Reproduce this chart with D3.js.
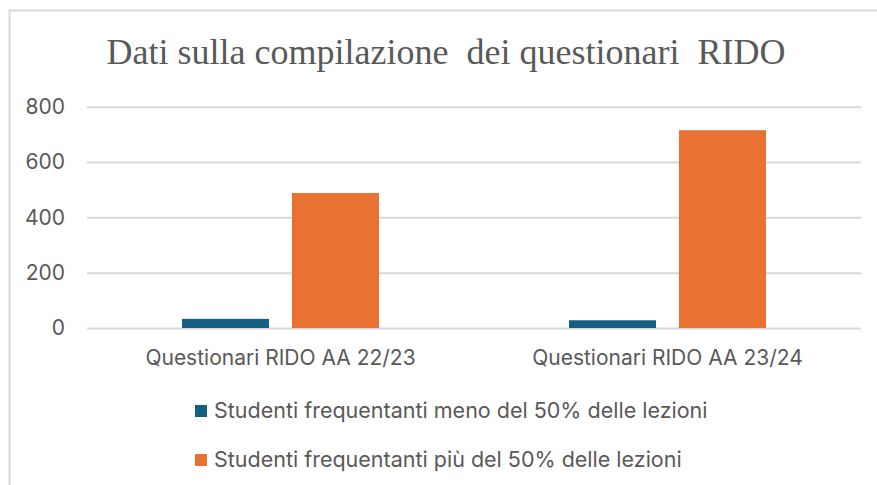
<!DOCTYPE html>
<html>
<head>
<meta charset="utf-8">
<script src="https://cdn.jsdelivr.net/npm/d3@7"></script>
<style>
  body { margin: 0; background: #fff; }
  svg { display: block; }
</style>
</head>
<body>
<div id="container"></div>
<script>
const categories = ['Questionari RIDO AA 22/23', 'Questionari RIDO AA 23/24'];
const seriesNames = ['Studenti frequentanti meno del 50% delle lezioni', 'Studenti frequentanti più del 50% delle lezioni'];
const menoValues = [33, 28];
const piuValues = [488, 715];
const yTicks = [0, 200, 400, 600, 800];
const colours = ['#156082', '#E97132'];

const W = 877, H = 485;
const textColour = '#595959';
const gridColour = '#d9d9d9';

let svg = d3.select('#container').append('svg')
  .attr('width', W)
  .attr('height', H);

// chart frame
svg.append('rect')
  .attr('x', 9.5).attr('y', 10.5)
  .attr('width', W).attr('height', H)
  .attr('fill', 'none')
  .attr('stroke', gridColour)
  .attr('stroke-width', 2);

svg.append('text')
  .attr('x', 446)
  .attr('y', 64)
  .attr('text-anchor', 'middle')
  .style('font-family', '"Liberation Serif", "Times New Roman", serif')
  .style('font-size', '36px')
  .style('white-space', 'pre')
  .attr('fill', textColour)
  .text('Dati sulla compilazione  dei questionari  RIDO');

const x0 = d3.scaleBand().domain(categories).range([87, 861]).padding(0);
const x1 = d3.scaleBand().domain(seriesNames)
  .range([95, x0.bandwidth() - 95])
  .paddingInner(0.209).paddingOuter(0);
const y = d3.scaleLinear().domain([0, 800]).range([328, 106.7]);

// gridlines
svg.append('g')
  .attr('transform', 'translate(87,0)')
  .call(d3.axisLeft(y).tickValues(yTicks).tickSize(-(861 - 87)).tickFormat(''))
  .call(g => g.select('.domain').remove())
  .call(g => g.selectAll('line').attr('stroke', gridColour).attr('stroke-width', 2));

// y labels
svg.append('g')
  .attr('transform', 'translate(87,0)')
  .call(d3.axisLeft(y).tickValues(yTicks).tickSize(0).tickPadding(22))
  .call(g => g.select('.domain').remove())
  .call(g => g.selectAll('text')
    .attr('fill', textColour)
    .style('font-family', 'Inter, "Liberation Sans", sans-serif')
    .style('font-size', '21px'));

const rows = categories.map((c, i) => ({ cat: c, values: [menoValues[i], piuValues[i]] }));

svg.append('g').selectAll('g')
  .data(rows).enter()
  .append('g')
  .attr('transform', (d) => `translate(${x0(d.cat)},0)`)
  .selectAll('rect')
  .data((d) => d.values.map((v, j) => ({ name: seriesNames[j], value: v, j: j })))
  .enter()
  .append('rect')
  .attr('x', (d) => x1(d.name))
  .attr('width', x1.bandwidth())
  .attr('y', (d) => y(d.value))
  .attr('height', (d) => y(0) - y(d.value))
  .attr('fill', (d) => colours[d.j]);

// category labels
svg.append('g')
  .attr('transform', 'translate(0,328)')
  .call(d3.axisBottom(x0).tickSize(0).tickPadding(22))
  .call(g => g.select('.domain').remove())
  .call(g => g.selectAll('text')
    .attr('fill', textColour)
    .style('font-family', 'Inter, "Liberation Sans", sans-serif')
    .style('font-size', '21px'));

// legend
const legend = svg.append('g').selectAll('g')
  .data(seriesNames).enter()
  .append('g')
  .attr('transform', (d, i) => `translate(195,${405 + i * 49})`);

legend.append('rect')
  .attr('width', 12).attr('height', 12)
  .attr('fill', (d, i) => colours[i]);

legend.append('text')
  .attr('x', 19)
  .attr('y', 13)
  .attr('fill', textColour)
  .style('font-family', 'Inter, "Liberation Sans", sans-serif')
  .style('font-size', '21.5px')
  .text((d) => d);
</script>
</body>
</html>
